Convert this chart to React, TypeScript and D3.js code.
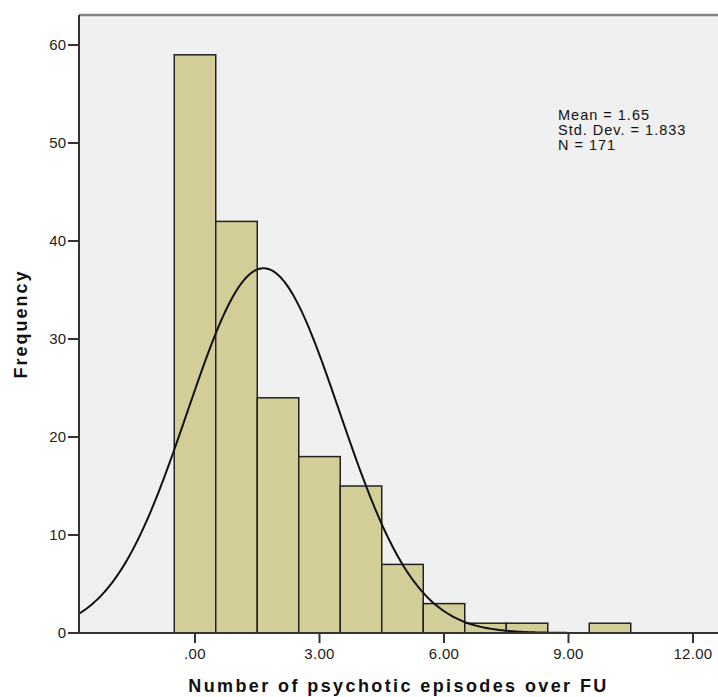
import React from "react";
import * as d3 from "d3";

const binStarts = [-0.5, 0.5, 1.5, 2.5, 3.5, 4.5, 5.5, 6.5, 7.5, 8.5, 9.5];
const frequencies = [59, 42, 24, 18, 15, 7, 3, 1, 1, 0, 1];
const xTicks = [0, 3, 6, 9, 12];
const yTicks = [0, 10, 20, 30, 40, 50, 60];
const stats = { mean: 1.65, sd: 1.833, n: 171 };
const statLines = ["Mean = 1.65", "Std. Dev. = 1.833", "N = 171"];

const W = 718;
const H = 697;
const plot = { left: 79, right: 718, top: 15, bottom: 633 };
const font = "'Liberation Sans', Arial, sans-serif";

export default function App() {
  const x = d3.scaleLinear().domain([0, 12]).range([195, 693]);
  const y = d3.scaleLinear().domain([0, 60]).range([633, 45]);
  const xMin = x.invert(plot.left);
  const xMax = x.invert(plot.right);

  const pdf = (v: number) =>
    (stats.n * Math.exp(-0.5 * ((v - stats.mean) / stats.sd) ** 2)) /
    (stats.sd * Math.sqrt(2 * Math.PI));
  const curvePts = d3.range(0, 401).map((i) => {
    const v = xMin + ((xMax - xMin) * i) / 400;
    return [v, pdf(v)] as [number, number];
  });
  const line = d3
    .line<[number, number]>()
    .x((d) => x(d[0]))
    .y((d) => y(d[1]))
    .curve(d3.curveLinear);

  const fmt = (v: number) => (v === 0 ? ".00" : v.toFixed(2));

  return (
    <svg
      width={W}
      height={H}
      style={{ position: "absolute", left: 0, top: 0, background: "#fff" }}
    >
      <rect
        x={plot.left}
        y={plot.top}
        width={plot.right - plot.left}
        height={plot.bottom - plot.top}
        fill="#F0F0F0"
      />
      <line
        x1={plot.left}
        x2={plot.right}
        y1={plot.top}
        y2={plot.top}
        stroke="#858585"
        strokeWidth={2.5}
      />
      {binStarts.map((b, i) =>
        frequencies[i] > 0 ? (
          <rect
            key={i}
            x={x(b)}
            y={y(frequencies[i])}
            width={x(b + 1) - x(b)}
            height={y(0) - y(frequencies[i])}
            fill="#D3CE98"
            stroke="#222"
            strokeWidth={1.5}
          />
        ) : null
      )}
      <path
        d={line(curvePts) || ""}
        fill="none"
        stroke="#111"
        strokeWidth={2}
      />
      <line
        x1={plot.left}
        x2={plot.left}
        y1={plot.top}
        y2={plot.bottom}
        stroke="#333"
        strokeWidth={2}
      />
      <line
        x1={plot.left}
        x2={plot.right}
        y1={plot.bottom}
        y2={plot.bottom}
        stroke="#333"
        strokeWidth={2}
      />
      {yTicks.map((t) => (
        <g key={t}>
          <line
            x1={68}
            x2={plot.left}
            y1={y(t)}
            y2={y(t)}
            stroke="#333"
            strokeWidth={2}
          />
          <text
            x={66}
            y={y(t) + 5}
            textAnchor="end"
            fontFamily={font}
            fontSize={15}
            fill="#222"
          >
            {t}
          </text>
        </g>
      ))}
      {xTicks.map((t) => (
        <g key={t}>
          <line
            x1={x(t)}
            x2={x(t)}
            y1={plot.bottom}
            y2={plot.bottom + 10}
            stroke="#333"
            strokeWidth={2}
          />
          <text
            x={x(t)}
            y={659}
            textAnchor="middle"
            fontFamily={font}
            fontSize={15}
            fill="#222"
            letterSpacing={0.3}
          >
            {fmt(t)}
          </text>
        </g>
      ))}
      <text
        x={(plot.left + plot.right) / 2}
        y={692}
        textAnchor="middle"
        fontFamily={font}
        fontSize={18}
        fontWeight="bold"
        letterSpacing={2.4}
        fill="#111"
      >
        Number of psychotic episodes over FU
      </text>
      <text
        transform={`translate(27, ${(plot.top + plot.bottom) / 2}) rotate(-90)`}
        textAnchor="middle"
        fontFamily={font}
        fontSize={18}
        fontWeight="bold"
        letterSpacing={2}
        fill="#111"
      >
        Frequency
      </text>
      {statLines.map((s, i) => (
        <text
          key={s}
          x={558}
          y={120 + i * 15}
          fontFamily={font}
          fontSize={14.5}
          letterSpacing={1}
          fill="#111"
        >
          {s}
        </text>
      ))}
    </svg>
  );
}
